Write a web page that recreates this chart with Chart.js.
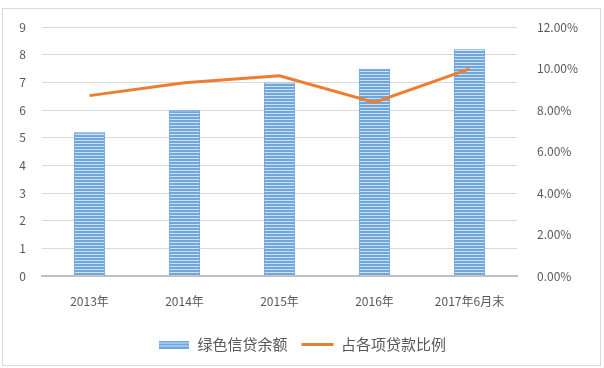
<!DOCTYPE html>
<html>
<head>
<meta charset="utf-8">
<script src="https://cdn.jsdelivr.net/npm/chart.js@4.4.1/dist/chart.umd.min.js"></script>
<style>
    html, body { margin: 0; padding: 0; background: #fff; }
    #wrap { width: 604px; height: 368px; position: relative; }
</style>
</head>
<body>
<div id="wrap"><canvas id="chart" width="604" height="368"></canvas></div>
<script>
const categories = ['2013年', '2014年', '2015年', '2016年', '2017年6月末'];
const greenCredit = [5.2, 6.0, 7.0, 7.5, 8.2];
const loanShare = [8.7, 9.32, 9.66, 8.37, 9.99];
const leftTicks = [0, 1, 2, 3, 4, 5, 6, 7, 8, 9];
const rightTicks = [0, 2, 4, 6, 8, 10, 12];

const tickFont = { family: '"Noto Sans CJK SC", "Noto Sans", sans-serif', size: 12 };

function stripePattern(w, h) {
    const c = document.createElement('canvas');
    c.width = w;
    c.height = h;
    const g = c.getContext('2d');
    for (let y = 0; y < h; y++) {
        g.fillStyle = (y % 3 === 2) ? '#cfe2f5' : '#6fa6de';
        g.fillRect(0, y, w, 1);
    }
    return c;
}

const ctx = document.getElementById('chart').getContext('2d');
const barFill = ctx.createPattern(stripePattern(6, 3), 'repeat');
const legendSwatch = stripePattern(30, 8);

// light frame around the whole picture
const framePlugin = {
    id: 'frame',
    beforeDraw(chart) {
        const c = chart.ctx;
        c.save();
        c.strokeStyle = '#d9d9d9';
        c.lineWidth = 1;
        c.strokeRect(2.5, 8.5, 598, 357);
        c.restore();
    }
};

new Chart(ctx, {
    data: {
        labels: categories,
        datasets: [{
            type: 'line',
            label: '占各项贷款比例',
            data: loanShare,
            yAxisID: 'y1',
            borderColor: '#ed7d31',
            backgroundColor: '#ed7d31',
            borderWidth: 3,
            pointRadius: 0,
            tension: 0,
            order: 0,
        }, {
            type: 'bar',
            label: '绿色信贷余额',
            data: greenCredit,
            yAxisID: 'y',
            backgroundColor: barFill,
            borderColor: '#5b9bd5',
            borderWidth: 1,
            categoryPercentage: 1,
            barPercentage: 0.33,
            order: 1,
        }],
    },
    options: {
        responsive: false,
        animation: false,
        layout: { padding: { top: 25, left: 0, right: 0, bottom: 6 } },
        plugins: {
            tooltip: { enabled: false },
            legend: {
                position: 'bottom',
                reverse: true,
                labels: {
                    color: '#595959',
                    font: { family: '"Noto Sans CJK SC", sans-serif', size: 15 },
                    usePointStyle: true,
                    pointStyleWidth: 32,
                    boxHeight: 8,
                    padding: 14,
                    generateLabels(chart) {
                        return chart.data.datasets.map((ds, i) => ({
                            text: ds.label,
                            datasetIndex: i,
                            fillStyle: ds.borderColor,
                            strokeStyle: ds.borderColor,
                            lineWidth: ds.type === 'line' ? 3 : 0,
                            pointStyle: ds.type === 'line' ? 'line' : legendSwatch,
                            fontColor: '#595959',
                        }));
                    },
                },
            },
        },
        scales: {
            x: {
                grid: { display: false, drawTicks: false },
                border: { color: '#bfbfbf', width: 2 },
                ticks: { color: '#595959', font: tickFont, padding: 18, maxRotation: 0 },
                afterFit(axis) { axis.height = 47; },
            },
            y: {
                position: 'left',
                min: 0,
                max: 9,
                afterBuildTicks(axis) { axis.ticks = leftTicks.map(v => ({ value: v })); },
                grid: { color: '#d9d9d9', drawTicks: false },
                border: { display: false },
                ticks: { color: '#595959', font: tickFont, padding: 16 },
                afterFit(axis) { axis.width = 42; },
            },
            y1: {
                position: 'right',
                min: 0,
                max: 12,
                afterBuildTicks(axis) { axis.ticks = rightTicks.map(v => ({ value: v })); },
                grid: { display: false, drawTicks: false },
                border: { display: false },
                ticks: {
                    color: '#595959',
                    font: tickFont,
                    padding: 20,
                    callback: v => v.toFixed(2) + '%',
                },
                afterFit(axis) { axis.width = 87; },
            },
        },
    },
    plugins: [framePlugin],
});
</script>
</body>
</html>
